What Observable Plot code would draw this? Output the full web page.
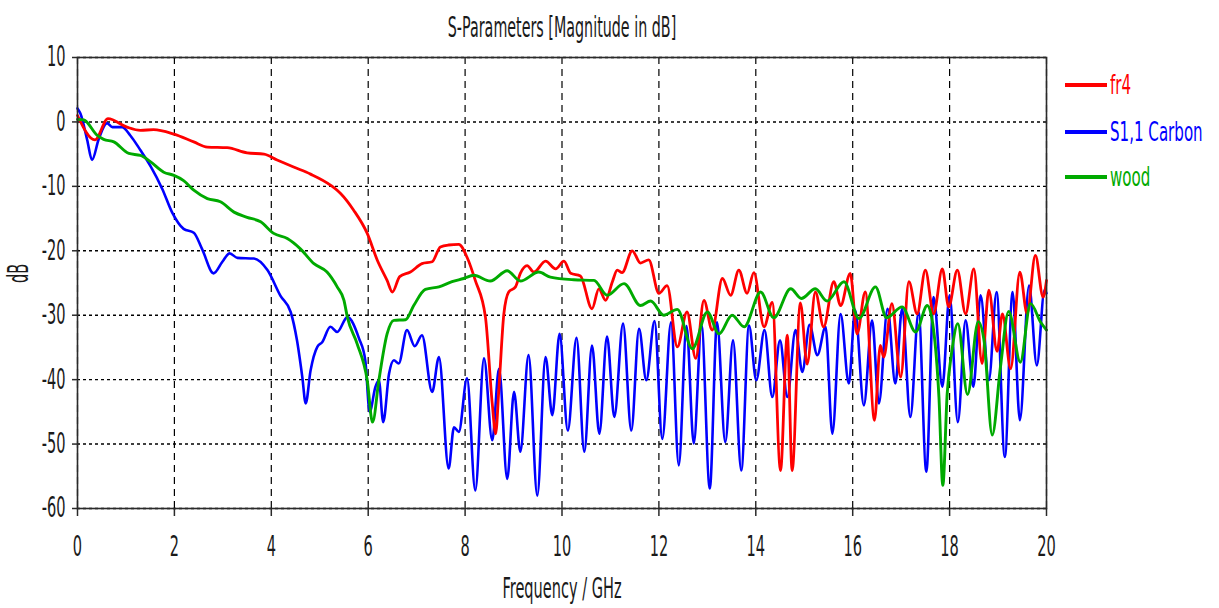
<!DOCTYPE html>
<html>
<head>
<meta charset="utf-8">
<script src="https://cdn.jsdelivr.net/npm/d3@7"></script>
<script src="https://cdn.jsdelivr.net/npm/@observablehq/plot@0.6"></script>
<style>
  body { margin: 0; background: #fff; }
  #wrap { position: relative; width: 1219px; height: 608px; overflow: hidden; }
  .legend { position: absolute; left: 0; top: 0; font-family: "DejaVu Sans", sans-serif; font-size: 26px; }
  .legend .row { position: absolute; left: 1065px; height: 30px; display: flex; align-items: center; white-space: nowrap; }
  .legend .swatch { width: 42px; height: 4px; margin-right: 3px; }
  .legend .name { display: inline-block; transform: scaleX(0.58); transform-origin: left center; }
</style>
</head>
<body>
<div id="wrap"></div>
<script>
// Axis ticks
const xTicks = [0, 2, 4, 6, 8, 10, 12, 14, 16, 18, 20];
const yTicks = [-60, -50, -40, -30, -20, -10, 0, 10];

// fr4 — frequency (GHz) and magnitude (dB)
const fr4Freq = [0, 0.36, 0.63, 1.02, 1.30, 1.57, 1.99, 2.40, 2.68, 3.09, 3.50, 3.85, 4.12, 4.46, 4.81, 5.22, 5.43, 5.70, 5.98, 6.19, 6.39, 6.50, 6.65, 6.87, 7.11, 7.32, 7.49, 7.66, 7.87, 8.04, 8.21, 8.42, 8.56, 8.63, 8.70, 8.80, 8.90, 9.04, 9.14, 9.28, 9.42, 9.66, 9.87, 10.04, 10.18, 10.38, 10.62, 10.76, 10.90, 11.04, 11.14, 11.24, 11.45, 11.62, 11.79, 12.00, 12.17, 12.38, 12.58, 12.76, 12.93, 13.10, 13.31, 13.48, 13.65, 13.82, 13.96, 14.17, 14.34, 14.51, 14.65, 14.75, 14.92, 15.06, 15.23, 15.40, 15.61, 15.75, 15.95, 16.09, 16.26, 16.45, 16.57, 16.64, 16.81, 16.99, 17.16, 17.33, 17.50, 17.67, 17.85, 17.98, 18.16, 18.33, 18.50, 18.67, 18.81, 18.98, 19.09, 19.26, 19.45, 19.60, 19.77, 19.93, 20.0];
const fr4DB = [1.0, -2.8, 0.5, -0.8, -1.3, -1.2, -1.9, -3.1, -3.9, -4.0, -4.8, -5.0, -5.9, -7.0, -8.1, -9.8, -11.1, -13.7, -17.3, -21.5, -24.6, -26.4, -24.0, -23.3, -22.0, -21.7, -19.4, -19.1, -19.0, -21.0, -24.6, -30.3, -43.7, -48.4, -41.1, -29.8, -26.4, -25.6, -23.5, -22.3, -23.3, -21.6, -22.8, -21.6, -23.5, -23.9, -29.0, -25.9, -27.7, -24.8, -23.0, -23.4, -20.0, -21.9, -21.4, -26.6, -25.4, -34.9, -29.5, -36.7, -27.7, -32.3, -24.3, -26.9, -23.0, -26.6, -23.4, -31.8, -28.0, -54.1, -33.1, -54.1, -28.1, -37.6, -26.4, -31.8, -24.8, -28.5, -23.5, -32.9, -26.4, -46.3, -34.7, -36.5, -28.2, -39.6, -24.8, -29.8, -23.0, -29.8, -22.8, -28.7, -23.0, -29.8, -22.8, -37.5, -26.1, -35.6, -29.8, -38.3, -23.3, -29.8, -20.7, -27.2, -24.6];

// S1,1 Carbon
const carbonFreq = [0, 0.06, 0.20, 0.30, 0.44, 0.61, 0.72, 0.92, 1.09, 1.30, 1.51, 1.75, 1.95, 2.19, 2.40, 2.57, 2.81, 2.99, 3.14, 3.30, 3.64, 3.92, 4.19, 4.40, 4.53, 4.64, 4.71, 4.81, 4.95, 5.05, 5.22, 5.36, 5.57, 5.81, 5.94, 6.03, 6.15, 6.22, 6.31, 6.43, 6.53, 6.63, 6.80, 6.96, 7.11, 7.32, 7.46, 7.66, 7.77, 7.87, 8.04, 8.21, 8.39, 8.56, 8.70, 8.87, 9.01, 9.14, 9.31, 9.49, 9.66, 9.80, 9.95, 10.12, 10.30, 10.46, 10.62, 10.77, 10.93, 11.08, 11.26, 11.43, 11.59, 11.74, 11.91, 12.07, 12.25, 12.41, 12.57, 12.72, 12.88, 13.05, 13.20, 13.37, 13.53, 13.70, 13.86, 14.01, 14.18, 14.34, 14.50, 14.65, 14.82, 14.96, 15.11, 15.27, 15.44, 15.58, 15.75, 15.92, 16.05, 16.23, 16.40, 16.54, 16.72, 16.88, 17.02, 17.19, 17.36, 17.52, 17.67, 17.85, 18.00, 18.17, 18.33, 18.49, 18.64, 18.81, 18.97, 19.14, 19.30, 19.45, 19.64, 19.80, 19.96, 20.0];
const carbonDB = [2.1, 1.3, -2.8, -5.9, -2.6, -0.2, -0.8, -0.8, -2.1, -4.4, -6.9, -10.4, -14.0, -16.6, -17.2, -19.7, -23.5, -21.7, -20.4, -21.1, -21.2, -23.0, -27.0, -29.5, -33.9, -39.6, -43.7, -38.6, -34.9, -34.2, -31.8, -32.6, -30.3, -33.6, -37.0, -45.0, -41.1, -40.1, -46.6, -39.1, -37.0, -37.5, -32.3, -34.8, -33.1, -41.9, -36.5, -53.8, -47.4, -48.1, -39.8, -57.2, -36.7, -49.4, -38.3, -55.4, -41.9, -51.2, -36.2, -58.0, -36.5, -45.5, -32.9, -47.9, -33.5, -51.2, -34.7, -48.4, -33.3, -45.8, -31.3, -47.9, -32.1, -40.1, -30.9, -49.2, -31.1, -53.3, -31.7, -49.9, -31.6, -56.9, -31.1, -49.7, -33.9, -54.1, -31.6, -40.1, -32.3, -42.7, -33.9, -42.7, -32.3, -38.8, -31.5, -36.2, -31.8, -48.4, -29.8, -40.6, -29.2, -44.0, -30.8, -43.7, -29.0, -40.6, -29.0, -45.8, -29.5, -54.3, -27.2, -41.1, -26.9, -46.6, -30.8, -41.1, -26.9, -40.1, -26.4, -52.0, -26.4, -46.3, -25.4, -37.8, -26.1, -26.6];

// wood
const woodFreq = [0, 0.13, 0.41, 0.54, 0.75, 1.06, 1.30, 1.51, 1.78, 1.99, 2.19, 2.40, 2.68, 2.95, 3.23, 3.50, 3.78, 4.05, 4.33, 4.60, 4.88, 5.15, 5.36, 5.50, 5.57, 5.77, 5.98, 6.09, 6.22, 6.39, 6.53, 6.77, 6.94, 7.18, 7.46, 7.73, 7.97, 8.18, 8.52, 8.87, 9.14, 9.52, 9.76, 10.24, 10.66, 10.93, 11.28, 11.62, 11.83, 12.10, 12.38, 12.69, 13.00, 13.24, 13.51, 13.76, 14.10, 14.37, 14.72, 14.94, 15.23, 15.47, 15.82, 16.13, 16.47, 16.70, 17.02, 17.30, 17.54, 17.67, 17.78, 17.86, 17.95, 18.05, 18.17, 18.37, 18.59, 18.71, 18.88, 19.05, 19.22, 19.46, 19.67, 19.88, 20.0];
const woodDB = [0.4, 0.3, -2.1, -2.7, -3.1, -4.9, -5.2, -6.2, -7.8, -8.3, -9.1, -10.6, -11.9, -12.4, -14.0, -14.8, -15.5, -17.3, -18.1, -19.7, -22.0, -23.3, -25.6, -27.7, -30.3, -34.4, -40.1, -46.6, -40.1, -32.9, -30.8, -30.7, -28.5, -26.0, -25.6, -24.8, -24.3, -23.8, -24.7, -23.1, -24.7, -23.3, -24.1, -24.5, -24.6, -26.9, -25.1, -28.5, -27.8, -30.0, -29.1, -35.2, -29.5, -32.9, -30.0, -31.8, -26.4, -30.4, -25.9, -27.4, -25.9, -27.8, -24.8, -30.5, -25.6, -30.4, -28.7, -32.6, -28.5, -32.3, -42.7, -56.4, -42.2, -35.4, -31.3, -42.3, -31.0, -33.9, -48.6, -38.0, -29.4, -37.3, -28.2, -31.1, -32.3];

const series = [
  {name: "fr4", color: "#ff0000", width: 2.8, freq: fr4Freq, db: fr4DB},
  {name: "S1,1 Carbon", color: "#0000ff", width: 2.6, freq: carbonFreq, db: carbonDB},
  {name: "wood", color: "#00aa00", width: 2.9, freq: woodFreq, db: woodDB}
];
// drawing order: Carbon underneath, then fr4, wood on top
const drawOrder = ["S1,1 Carbon", "fr4", "wood"];

const toRows = s => s.freq.map((f, i) => ({f, db: s.db[i]}));

const font = "DejaVu Sans, sans-serif";
const plainNumber = d => String(d); // ASCII hyphen for negatives

const chart = Plot.plot({
  width: 1219,
  height: 608,
  marginLeft: 77,
  marginRight: 173,
  marginTop: 57,
  marginBottom: 100,
  style: {fontFamily: font, fontSize: "28px", color: "#1a1a1a", background: "transparent", overflow: "visible"},
  x: {domain: [0, 20]},
  y: {domain: [-60, 10]},
  marks: [
    Plot.gridX(xTicks, {stroke: "#000", strokeOpacity: 1, strokeWidth: 1.2, strokeDasharray: "7,5"}),
    Plot.gridY(yTicks, {stroke: "#000", strokeOpacity: 1, strokeWidth: 1.4, strokeDasharray: "3,3"}),
    ...drawOrder.map(n => {
      const s = series.find(d => d.name === n);
      return Plot.line(toRows(s), {x: "f", y: "db", stroke: s.color, strokeWidth: s.width, strokeLinejoin: "round", curve: "monotone-x"});
    }),
    Plot.frame({stroke: "#2a2a2a", strokeWidth: 1.6}),
    Plot.axisX(xTicks, {tickSize: 8, tickPadding: 20, stroke: "#2a2a2a", strokeWidth: 1.5, label: null, fontSize: 28, tickFormat: plainNumber}),
    Plot.axisY(yTicks, {tickSize: 5, tickPadding: 7, stroke: "#2a2a2a", strokeWidth: 1.5, label: null, fontSize: 28, tickFormat: plainNumber}),
    Plot.text(["S-Parameters [Magnitude in dB]"], {frameAnchor: "top", dy: -29, lineAnchor: "middle", fontSize: 27.5, fill: "#1a1a1a", ariaLabel: "chart-title"}),
    Plot.text(["Frequency / GHz"], {frameAnchor: "bottom", dy: 81, lineAnchor: "middle", fontSize: 28, fill: "#1a1a1a", ariaLabel: "x-title"}),
    Plot.text(["dB"], {frameAnchor: "left", dx: -58, rotate: -90, lineAnchor: "middle", fontSize: 28, fill: "#1a1a1a", ariaLabel: "y-title"})
  ]
});

// Narrow glyphs: squeeze each label about its anchor point (em offsets stay local)
function squeeze(node, kx, ky) {
  const tr = node.getAttribute("transform") || "";
  let pre = "";
  const x = node.getAttribute("x");
  if (x != null && !isNaN(+x)) {
    pre = `translate(${+x},0)`;
    node.removeAttribute("x");
  }
  node.setAttribute("transform", `${tr} ${pre} scale(${kx},${ky})`.trim());
}
chart.querySelectorAll("text").forEach(t => {
  const g = t.closest("g[aria-label]");
  const role = g ? g.getAttribute("aria-label") : "";
  if (role === "y-title") squeeze(t, 1, 0.5);
  else if (role === "chart-title") squeeze(t, 0.61, 1);
  else if (role === "x-title") squeeze(t, 0.58, 1);
  else squeeze(t, 0.52, 1);
});

const wrap = document.getElementById("wrap");
wrap.appendChild(chart);

// Legend at the right of the plot
const legend = document.createElement("div");
legend.className = "legend";
const rowTops = [70, 117, 162];
series.forEach((s, i) => {
  const row = document.createElement("div");
  row.className = "row";
  row.style.top = rowTops[i] + "px";
  const sw = document.createElement("span");
  sw.className = "swatch";
  sw.style.background = s.color;
  const label = document.createElement("span");
  label.className = "name";
  label.style.color = s.color;
  label.textContent = s.name;
  row.appendChild(sw);
  row.appendChild(label);
  legend.appendChild(row);
});
wrap.appendChild(legend);
</script>
</body>
</html>
